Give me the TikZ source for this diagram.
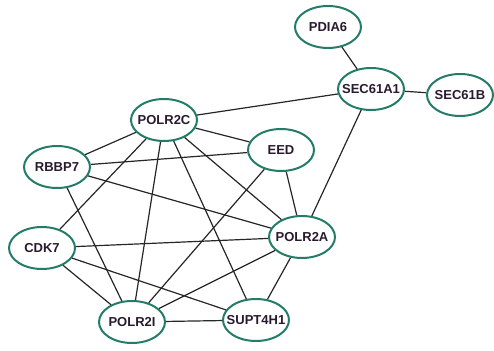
\documentclass[tikz,border=0pt]{standalone}
\usepackage{fontspec}
\setmainfont{Liberation Sans}
\usetikzlibrary{shapes.geometric}
\definecolor{genegreen}{RGB}{34,124,104}
\definecolor{genetext}{RGB}{42,26,48}
\tikzset{
  gene/.style={ellipse, draw=genegreen, line width=2pt, fill=white,
    minimum width=66pt, minimum height=42pt, inner xsep=-6pt, inner ysep=0pt,
    text=genetext, font=\fontsize{13}{15}\selectfont\bfseries},
  link/.style={line width=1.2pt, draw=black!85}
}
\begin{document}
\begin{tikzpicture}[x=1pt,y=1pt]
            \useasboundingbox (0,0) rectangle (494,350);

            % Draw gene nodes
            \node[gene] (pdia6) at (328,323) {PDIA6};
            \node[gene] (sec61a1) at (371,261) {SEC61A1};
            \node[gene] (sec61b) at (460,255) {SEC61B};
            \node[gene] (polr2c) at (164,230) {POLR2C};
            \node[gene] (eed) at (281,200) {EED};
            \node[gene] (rbbp7) at (57,183) {RBBP7};
            \node[gene] (polr2a) at (302,113) {POLR2A};
            \node[gene] (cdk7) at (42,102) {CDK7};
            \node[gene] (polr2i) at (132,28) {POLR2I};
            \node[gene] (supt4h1) at (256,30) {SUPT4H1};

            % Draw interactions
            \foreach \a/\b in {pdia6/sec61a1, sec61a1/sec61b, sec61a1/polr2c,
                sec61a1/polr2a, polr2c/rbbp7, polr2c/eed, polr2c/cdk7,
                polr2c/polr2i, polr2c/supt4h1, polr2c/polr2a, rbbp7/eed,
                rbbp7/polr2a, rbbp7/polr2i, eed/polr2a, eed/polr2i,
                cdk7/polr2a, cdk7/polr2i, cdk7/supt4h1, polr2a/polr2i,
                polr2a/supt4h1, polr2i/supt4h1}
                \draw[link] (\a) -- (\b);
        \end{tikzpicture}
\end{document}
